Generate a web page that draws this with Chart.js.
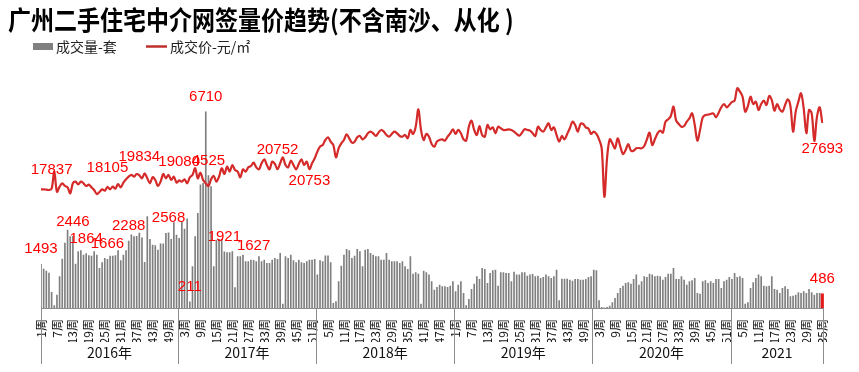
<!DOCTYPE html>
<html>
<head>
<meta charset="utf-8">
<script src="https://cdn.jsdelivr.net/npm/chart.js@4.4.1/dist/chart.umd.min.js"></script>
<style>
  html, body { margin: 0; padding: 0; background: #fff; }
  #wrap { width: 859px; height: 372px; }
</style>
</head>
<body>
<div id="wrap"><canvas id="chart" width="859" height="372"></canvas></div>
<script>
  // 年份与每年周数
  const years = ['2016年', '2017年', '2018年', '2019年', '2020年', '2021'];
  const weeksInYear = [52, 52, 52, 52, 52, 35];

  // 成交量-套（每周）
  const volume = [
    // 2016
    1493, 1334, 1265, 1197, 536, 80, 445, 1072, 1675, 2222,
    2667, 2440, 2446, 1504, 1926, 1960, 1813, 1864, 1790, 1778,
    1926, 1813, 1357, 1550, 1700, 1666, 1778, 1778, 1790, 1960,
    1620, 1813, 1960, 2288, 2500, 2440, 2450, 2560, 2400, 1560,
    3124, 2350, 2155, 2132, 1984, 2190, 2190, 2554, 2568, 2350,
    2918, 2497,
    // 2017
    2380, 2950, 2700, 3050, 211, 1414, 2440, 3238, 4207, 4264,
    6710, 4525, 4150, 1414, 2325, 2348, 2348, 1921, 1892, 1892,
    1927, 700, 1756, 1756, 1813, 1585, 1585, 1642, 1627, 1585,
    1756, 1585, 1642, 1528, 1528, 1642, 1700, 1665, 1870, 137,
    1756, 1700, 1813, 1620, 1550, 1642, 1550, 1528, 1585, 1642,
    1642, 1665,
    // 2018
    1130, 1620, 1585, 1780, 1780, 1550, 160, 217, 900, 1436,
    1813, 2006, 1960, 1700, 1778, 2006, 1927, 1414, 1984, 2006,
    1870, 1813, 1756, 1756, 1642, 1642, 1870, 1642, 1585, 1585,
    1585, 1528, 1585, 1414, 1322, 1756, 1163, 1208, 1163, 137,
    1265, 1208, 1130, 900, 616, 707, 787, 730, 730, 707,
    752, 900,
    // 2019
    559, 787, 900, 502, 80, 296, 638, 821, 1072, 980,
    1357, 1322, 844, 1186, 1277, 1300, 752, 1208, 1208, 1186,
    1186, 900, 1231, 1130, 1130, 1208, 1208, 1094, 1130, 1150,
    1072, 1094, 1015, 1049, 1130, 1072, 1015, 1072, 1300, 251,
    992, 992, 992, 958, 923, 980, 980, 958, 958, 980,
    1049, 1072,
    // 2020
    1300, 1277, 251, 23, 5, 23, 68, 182, 330, 502,
    673, 752, 844, 866, 821, 980, 1130, 787, 900, 1072,
    1049, 1163, 1130, 1072, 1094, 1072, 958, 1049, 1163, 1163,
    1357, 980, 980, 1072, 958, 787, 900, 935, 1015, 502,
    479, 900, 935, 844, 900, 844, 980, 980, 673, 900,
    958, 1049,
    // 2021
    980, 1186, 1049, 1072, 1015, 137, 182, 673, 866, 1015,
    1130, 1072, 752, 730, 752, 1072, 638, 616, 502, 673,
    730, 638, 388, 410, 445, 524, 502, 559, 502, 638,
    524, 445, 502, 502, 486
  ];

  // 成交价-元/㎡（每周）
  const price = [
    // 2016
    17750, 17750, 17700, 17650, 17837, 20390, 17400, 18150, 18650, 18250,
    18050, 17150, 18650, 18900, 18500, 18900, 18650, 18250, 18450, 18050,
    17650, 17050, 17350, 17750, 17550, 18105, 17750, 18150, 17850, 18550,
    18050, 18750, 19250, 19650, 19900, 19650, 20040, 19834, 19400, 20140,
    19400, 18650, 19550, 19150, 18250, 18900, 20040, 19400, 19900, 19150,
    19650, 18750,
    // 2017
    19080, 18900, 19250, 18650, 19550, 19900, 20900, 19400, 20240, 19150,
    18650, 18250, 19250, 19750, 18900, 19650, 20900, 20040, 21140, 20390,
    21390, 20640, 20390, 19550, 20740, 20390, 21040, 21240, 21740, 21040,
    20740, 21640, 22240, 21390, 20740, 21890, 21540, 20752, 21640, 22540,
    21390, 21040, 22040, 21390, 20740, 21540, 22240, 21390, 21890, 20753,
    21640, 22390,
    // 2018
    23390, 24130, 24380, 25130, 25530, 24880, 24380, 22540, 23880, 24630,
    25130, 25980, 25380, 24730, 24880, 25530, 25730, 25230, 25530, 26130,
    26380, 26130, 25730, 26230, 26630, 26380, 25880, 25630, 26030, 26380,
    26130, 25730, 25630, 25880, 25380, 26630, 26030, 27120, 29720, 26630,
    25130, 26030, 25630, 24530, 24130, 24930, 25130, 25230, 25030, 25630,
    26130, 26730,
    // 2019
    26030, 26630, 26130, 25230, 25030, 27120, 28020, 26630, 25880, 27220,
    25880, 25630, 27370, 26730, 27020, 26130, 27120, 26880, 26630, 26630,
    26730, 26630, 26380, 26030, 25780, 26230, 26730, 26630, 26530, 26130,
    25730, 27120, 26630, 26380, 27020, 27620, 26630, 27020, 25880, 24880,
    25730, 25230, 26030, 26880, 27870, 27370, 26380, 27520, 27520, 27020,
    26830, 26030,
    // 2020
    26380, 26030, 25230, 23880, 16650, 22390, 25230, 24630, 23880, 25380,
    24130, 23040, 23630, 24530, 23530, 23530, 23880, 23930, 23880, 24230,
    25230, 26230, 24380, 25230, 26130, 26530, 26230, 27870, 28220, 28720,
    30120, 28020, 27520, 27120, 27220, 27870, 28370, 29120, 27370, 25030,
    26630, 28520, 28870, 28920, 29020, 29120, 28520, 29220, 30020, 30510,
    30020, 30360,
    // 2021
    30810, 31010, 32860, 32360, 31610, 29370, 30210, 31610, 30510, 30860,
    29620, 30510, 31010, 30360, 31710, 31110, 29520, 30510, 29720, 29370,
    30360, 31210, 30210, 26380, 29370, 30860, 32110, 29870, 26130, 29620,
    29120, 24980, 28620, 30020, 27693
  ];

  // 标注了数值的点（序号）
  const volumeLabelAt = [0, 12, 17, 25, 33, 48, 56, 62, 63, 69, 80, 294];
  const priceLabelAt = [4, 25, 37, 52, 89, 101, 294];
  // 数值标在线下方的点：下移距离
  const priceLabelBelow = { 101: 12, 294: 26 };

  // 周标签：1周, 2周 ...
  const weekLabels = [];
  weeksInYear.forEach(n => {
      for (let w = 1; w <= n; w++) weekLabels.push(w + '周');
  });

  const lastIdx = volume.length - 1;
  // 最后一周单独用红色柱
  const volumeGray = volume.map((v, i) => i === lastIdx ? null : v);
  const volumeLast = volume.map((v, i) => i === lastIdx ? v : null);

  const decor = {
      id: 'decor',
      afterDatasetsDraw(chart) {
          const ctx = chart.ctx;
          const xs = chart.scales.x;
          const yv = chart.scales.yVol;
          const lineMeta = chart.getDatasetMeta(2);
          ctx.save();
          ctx.font = '15px "Liberation Sans", Arial, sans-serif';
          ctx.fillStyle = '#ff0000';
          ctx.textAlign = 'center';
          ctx.textBaseline = 'middle';
          volumeLabelAt.forEach(i => {
              ctx.fillText(String(volume[i]), xs.getPixelForValue(i), yv.getPixelForValue(volume[i]) - 15);
          });
          priceLabelAt.forEach(i => {
              const el = lineMeta.data[i];
              const dy = priceLabelBelow[i] !== undefined ? priceLabelBelow[i] : -19;
              ctx.fillText(String(price[i]), el.x, el.y + dy);
          });
          ctx.restore();
      },
      afterDraw(chart) {
          const ctx = chart.ctx;
          const xs = chart.scales.x;
          const bottom = chart.chartArea.bottom;
          ctx.save();

          // 标题
          ctx.fillStyle = '#000';
          ctx.font = 'bold 23px "Noto Sans CJK SC", sans-serif';
          ctx.textBaseline = 'alphabetic';
          ctx.translate(8, 30);
          ctx.scale(1, 1.15);
          ctx.fillText('广州二手住宅中介网签量价趋势(不含南沙、从化 )', 0, 0);
          ctx.setTransform(1, 0, 0, 1, 0, 0);

          // 图例
          ctx.fillStyle = '#808080';
          ctx.fillRect(33, 43, 20, 7);
          ctx.strokeStyle = '#c0302b';
          ctx.lineWidth = 2.5;
          ctx.beginPath();
          ctx.moveTo(146, 46.5);
          ctx.lineTo(167, 46.5);
          ctx.stroke();
          ctx.fillStyle = '#222';
          ctx.font = '14px "Noto Sans CJK SC", sans-serif';
          ctx.textBaseline = 'middle';
          ctx.fillText('成交量-套', 56, 46.5);
          ctx.fillText('成交价-元/㎡', 170, 46.5);

          // 年份分隔线与年份
          ctx.strokeStyle = '#8c8c8c';
          ctx.lineWidth = 1;
          ctx.font = '14px "Noto Sans CJK SC", sans-serif';
          ctx.textAlign = 'center';
          ctx.fillStyle = '#111';
          let start = 0;
          const edges = [xs.getPixelForValue(0)];
          weeksInYear.forEach((n, k) => {
              const end = start + n - 1;
              const right = end === lastIdx ? xs.getPixelForValue(lastIdx) + 1
                  : (xs.getPixelForValue(end) + xs.getPixelForValue(end + 1)) / 2;
              edges.push(right);
              ctx.fillText(years[k], (edges[k] + right) / 2, 353);
              start = end + 1;
          });
          edges.forEach(x => {
              const px = Math.round(x) + 0.5;
              ctx.beginPath();
              ctx.moveTo(px, bottom);
              ctx.lineTo(px, 364);
              ctx.stroke();
          });
          ctx.restore();
      }
  };

  const ctx = document.getElementById('chart').getContext('2d');
  new Chart(ctx, {
      type: 'bar',
      data: {
          labels: weekLabels,
          datasets: [
              {
                  type: 'bar',
                  label: '成交量-套',
                  data: volumeGray,
                  yAxisID: 'yVol',
                  backgroundColor: '#7f7f7f',
                  barThickness: 1,
                  grouped: false,
                  order: 3
              },
              {
                  type: 'bar',
                  label: '成交量-套(本周)',
                  data: volumeLast,
                  yAxisID: 'yVol',
                  backgroundColor: '#e31a1a',
                  barThickness: 2.5,
                  grouped: false,
                  clip: false,
                  order: 2
              },
              {
                  type: 'line',
                  label: '成交价-元/㎡',
                  data: price,
                  yAxisID: 'yPrice',
                  borderColor: '#d42a2a',
                  borderWidth: 2.2,
                  pointRadius: 0,
                  tension: 0.35,
                  order: 1
              }
          ]
      },
      options: {
          responsive: false,
          animation: false,
          devicePixelRatio: 1,
          layout: { padding: { left: 41, right: 36.7, top: 74, bottom: 30 } },
          plugins: {
              legend: { display: false },
              tooltip: { enabled: false }
          },
          scales: {
              x: {
                  type: 'category',
                  offset: false,
                  grid: { display: false },
                  border: { display: true, color: '#8c8c8c' },
                  ticks: {
                      autoSkip: false,
                      minRotation: 90,
                      maxRotation: 90,
                      padding: 3,
                      color: '#111',
                      font: { size: 12, family: '"Noto Sans CJK SC", sans-serif' },
                      callback: function (value, index) {
                          return index % 6 === 0 ? this.getLabelForValue(value) : null;
                      }
                  },
                  afterFit: (scale) => { scale.height = 34; }
              },
              yVol: { position: 'left', display: false, min: 0, max: 8000 },
              yPrice: { position: 'right', display: false, min: 0, max: 35000 }
          }
      },
      plugins: [decor]
  });
</script>
</body>
</html>
